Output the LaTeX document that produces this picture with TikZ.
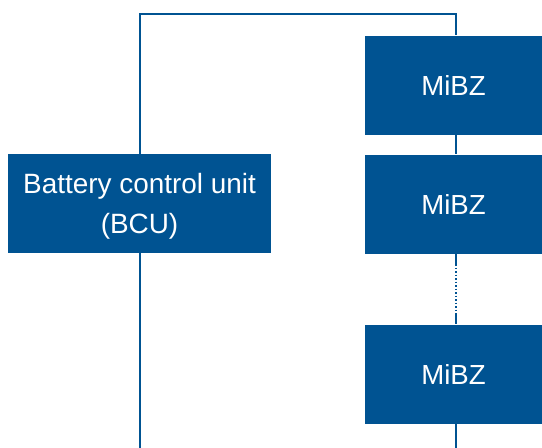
\documentclass[tikz,border=0pt]{standalone}
\usepackage{fontspec}
\setmainfont{Liberation Sans}
\definecolor{bcublue}{RGB}{0,83,146}
\begin{document}
\begin{tikzpicture}[x=1pt,y=-1pt,
  blk/.style={fill=bcublue,draw=none,text=white,inner sep=0pt,align=center,
    font=\fontsize{27.6}{39.5}\selectfont},
  wire/.style={draw=bcublue,line width=2pt}]
\useasboundingbox (0,0) rectangle (542,448);
\node[blk,minimum width=263pt,minimum height=99pt] (bcu) at (139.5,203.5) {};
\node[text=white,inner sep=0pt,align=center,font=\fontsize{27.9}{39.5}\selectfont] (bcut) at (139.5,206.5) {Battery control unit\\(BCU)};
\node[blk,minimum width=177pt,minimum height=99pt] (m1) at (453.5,85) {MiBZ};
\node[blk,minimum width=177pt,minimum height=99pt] (m2) at (453.5,204) {MiBZ};
\node[blk,minimum width=177pt,minimum height=99pt] (m3) at (453.5,374) {MiBZ};
\coordinate (tr) at (456,14);
\coordinate (bl) at (140,448);
\coordinate (br) at (456,448);
\coordinate (d1) at (456,264);
\coordinate (d2) at (456,313);
\draw[wire] (bl |- bcu.north) |- (tr) -- (tr |- m1.north);
\draw[wire] (tr |- m1.south) -- (tr |- m2.north);
\draw[wire] (tr |- m2.south) -- (d1);
\draw[wire,line width=1.5pt,dotted] (d1) -- (d2);
\draw[wire] (d2) -- (tr |- m3.north);
\draw[wire] (tr |- m3.south) -- (br);
\draw[wire] (bl |- bcu.south) -- (bl);
\end{tikzpicture}
\end{document}
